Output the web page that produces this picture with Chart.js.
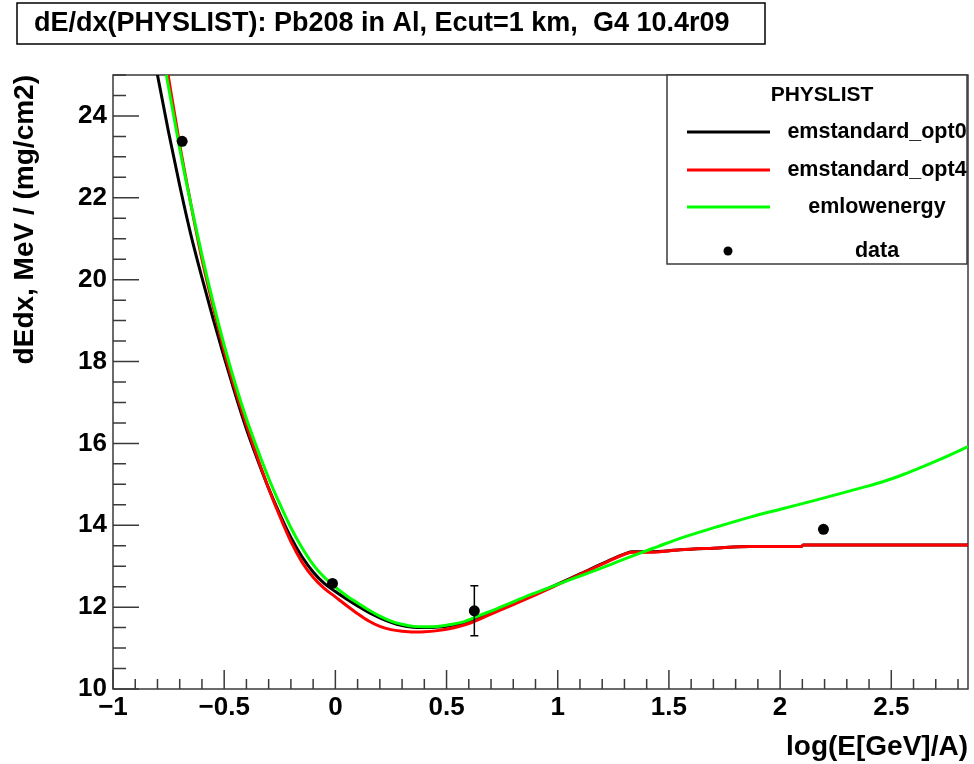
<!DOCTYPE html>
<html lang="en">
<head>
<meta charset="UTF-8">
<title>dE/dx(PHYSLIST): Pb208 in Al</title>
<script src="https://cdn.jsdelivr.net/npm/chart.js@4"></script>
<style>
  body { margin: 0; background: #fff; }
  #wrap { width: 974px; height: 764px; }
</style>
</head>
<body>
<div id="wrap"><canvas id="dedxChart" width="974" height="764"></canvas></div>
<script>
// ---- data ----
var chartTitle = 'dE/dx(PHYSLIST): Pb208 in Al, Ecut=1 km,  G4 10.4r09';
var legendHeader = 'PHYSLIST';

var xTickValues = [-1, -0.5, 0, 0.5, 1, 1.5, 2, 2.5];
var xTickLabels = ['\u22121', '\u22120.5', '0', '0.5', '1', '1.5', '2', '2.5'];
var yTickValues = [10, 12, 14, 16, 18, 20, 22, 24];
var yTickLabels = ['10', '12', '14', '16', '18', '20', '22', '24'];

// emstandard_opt0
var opt0X = [-0.82, -0.80, -0.75, -0.70, -0.65, -0.60, -0.55, -0.50, -0.45, -0.40, -0.35, -0.30, -0.25, -0.20, -0.15, -0.10, -0.05, 0.00, 0.05, 0.10, 0.15, 0.20, 0.25, 0.30, 0.35, 0.40, 0.45, 0.50, 0.60, 0.70, 0.80, 0.90, 1.00, 1.10, 1.20, 1.31, 1.335, 1.415, 1.55, 1.70, 1.865, 2.095, 2.105, 2.845];
var opt0Y = [25.6, 25.0, 23.6, 22.3, 21.1, 20.05, 19.05, 18.1, 17.2, 16.35, 15.6, 14.9, 14.27, 13.7, 13.23, 12.86, 12.58, 12.38, 12.2, 12.03, 11.87, 11.74, 11.63, 11.55, 11.51, 11.50, 11.51, 11.53, 11.65, 11.87, 12.09, 12.32, 12.56, 12.81, 13.06, 13.32, 13.35, 13.35, 13.40, 13.44, 13.48, 13.48, 13.52, 13.52];

// emstandard_opt4
var opt4X = [-0.77, -0.752, -0.70, -0.65, -0.60, -0.55, -0.50, -0.45, -0.40, -0.35, -0.30, -0.25, -0.20, -0.15, -0.10, -0.05, 0.00, 0.05, 0.10, 0.15, 0.20, 0.25, 0.30, 0.35, 0.40, 0.45, 0.50, 0.60, 0.70, 0.80, 0.90, 1.00, 1.10, 1.20, 1.31, 1.335, 1.415, 1.55, 1.70, 1.865, 2.095, 2.105, 2.845];
var opt4Y = [25.6, 25.0, 23.3, 21.85, 20.5, 19.35, 18.25, 17.3, 16.45, 15.65, 14.9, 14.22, 13.6, 13.1, 12.73, 12.46, 12.25, 12.04, 11.84, 11.66, 11.53, 11.45, 11.41, 11.39, 11.40, 11.42, 11.46, 11.60, 11.83, 12.06, 12.30, 12.55, 12.80, 13.05, 13.31, 13.34, 13.34, 13.40, 13.44, 13.48, 13.48, 13.52, 13.52];

// emlowenergy
var lowX = [-0.78, -0.76, -0.70, -0.65, -0.60, -0.55, -0.50, -0.45, -0.40, -0.35, -0.30, -0.25, -0.20, -0.15, -0.10, -0.05, 0.00, 0.05, 0.10, 0.15, 0.20, 0.25, 0.30, 0.35, 0.425, 0.50, 0.576, 0.65, 0.725, 0.80, 0.875, 0.95, 1.05, 1.175, 1.27, 1.37, 1.45, 1.55, 1.715, 1.865, 2.015, 2.165, 2.315, 2.39, 2.465, 2.54, 2.615, 2.69, 2.765, 2.845];
var lowY = [25.6, 25.0, 23.2, 21.85, 20.6, 19.45, 18.4, 17.45, 16.6, 15.85, 15.15, 14.52, 13.94, 13.45, 13.04, 12.73, 12.49, 12.28, 12.1, 11.93, 11.78, 11.66, 11.58, 11.53, 11.52, 11.56, 11.64, 11.80, 11.96, 12.13, 12.30, 12.45, 12.66, 12.91, 13.11, 13.32, 13.48, 13.68, 13.96, 14.20, 14.41, 14.62, 14.84, 14.95, 15.07, 15.21, 15.37, 15.54, 15.72, 15.92];

// data
var dataX = [-0.689, -0.013, 0.625, 2.195];
var dataY = [23.38, 12.58, 11.91, 13.90];
var dataErr = [0, 0, 0.61, 0];

var FONT = "'Liberation Sans', Arial, Helvetica, sans-serif";

function pts(xs, ys) {
    return xs.map(function (x, i) { return { x: x, y: ys[i] }; });
}

// frame and inward ROOT style ticks
var rootAxes = {
    id: 'rootAxes',
    beforeDatasetsDraw: function (chart) {
        var ctx = chart.ctx, a = chart.chartArea;
        var xs = chart.scales.x, ys = chart.scales.y;
        ctx.save();
        ctx.strokeStyle = '#3a3a3a';
        ctx.lineWidth = 1.5;
        ctx.strokeRect(a.left, a.top, a.right - a.left, a.bottom - a.top);
        ctx.beginPath();
        // x: major every 0.5, minor every 0.1
        for (var i = -10; i <= 28; i++) {
            var px = xs.getPixelForValue(i / 10);
            var len = (i % 5 === 0) ? 19 : 10;
            ctx.moveTo(px, a.bottom);
            ctx.lineTo(px, a.bottom - len);
        }
        // y: major every 2, minor every 0.5
        for (var j = 20; j <= 50; j++) {
            var py = ys.getPixelForValue(j / 2);
            var ylen = (j % 4 === 0) ? 26 : 13;
            ctx.moveTo(a.left, py);
            ctx.lineTo(a.left + ylen, py);
        }
        ctx.stroke();
        ctx.restore();
    }
};

// vertical error bars on the data points
var errorBars = {
    id: 'errorBars',
    afterDatasetsDraw: function (chart) {
        var ctx = chart.ctx, xs = chart.scales.x, ys = chart.scales.y;
        ctx.save();
        ctx.strokeStyle = '#000';
        ctx.lineWidth = 1.5;
        dataX.forEach(function (x, i) {
            if (!dataErr[i]) return;
            var px = xs.getPixelForValue(x);
            var top = ys.getPixelForValue(dataY[i] + dataErr[i]);
            var bot = ys.getPixelForValue(dataY[i] - dataErr[i]);
            ctx.beginPath();
            ctx.moveTo(px, top); ctx.lineTo(px, bot);
            ctx.moveTo(px - 4, top); ctx.lineTo(px + 4, top);
            ctx.moveTo(px - 4, bot); ctx.lineTo(px + 4, bot);
            ctx.stroke();
        });
        ctx.restore();
    }
};

// ROOT TLegend look
var rootLegend = {
    id: 'rootLegend',
    afterDraw: function (chart) {
        var ctx = chart.ctx, a = chart.chartArea;
        var w = 300, h = 189;
        var x0 = a.right - w - 1, y0 = a.top;
        ctx.save();
        ctx.fillStyle = '#fff';
        ctx.fillRect(x0, y0, w, h);
        ctx.strokeStyle = '#3a3a3a';
        ctx.lineWidth = 1.5;
        ctx.strokeRect(x0, y0, w, h);
        ctx.fillStyle = '#000';
        ctx.textBaseline = 'middle';
        ctx.textAlign = 'center';
        ctx.font = 'bold 21px ' + FONT;
        ctx.fillText(legendHeader, x0 + 155, y0 + 20);
        ctx.font = 'bold 21.5px ' + FONT;
        var rows = [57, 95, 132, 176];
        chart.data.datasets.slice().sort(function (p, q) { return p.legendIndex - q.legendIndex; }).forEach(function (ds, k) {
            var ry = y0 + rows[k];
            if (ds.showLine) {
                ctx.strokeStyle = ds.borderColor;
                ctx.lineWidth = 3;
                ctx.beginPath();
                ctx.moveTo(x0 + 20, ry);
                ctx.lineTo(x0 + 103, ry);
                ctx.stroke();
            } else {
                ctx.fillStyle = '#000';
                ctx.beginPath();
                ctx.arc(x0 + 61, ry, 4.5, 0, Math.PI * 2);
                ctx.fill();
            }
            ctx.fillStyle = '#000';
            ctx.fillText(ds.label, x0 + 210, ry);
        });
        ctx.restore();
    }
};

// boxed title in the top left
var titleBox = {
    id: 'titleBox',
    afterDraw: function (chart) {
        var ctx = chart.ctx;
        ctx.save();
        ctx.fillStyle = '#fff';
        ctx.fillRect(17, 3, 748, 41);
        ctx.strokeStyle = '#000';
        ctx.lineWidth = 1.5;
        ctx.strokeRect(17, 3, 748, 41);
        ctx.fillStyle = '#000';
        ctx.font = 'bold 27px ' + FONT;
        ctx.textAlign = 'left';
        ctx.textBaseline = 'middle';
        ctx.fillText(chartTitle, 34, 24);
        ctx.restore();
    }
};

var lineBase = { showLine: true, pointRadius: 0, borderWidth: 3, cubicInterpolationMode: 'monotone', fill: false };

var ctx = document.getElementById('dedxChart').getContext('2d');
var dedxChart = new Chart(ctx, {
    type: 'scatter',
    data: {
        datasets: [
            { label: 'data', legendIndex: 3, order: 0, data: pts(dataX, dataY), showLine: false,
              pointRadius: 5.5, pointBackgroundColor: '#000', pointBorderColor: '#000', pointBorderWidth: 0 },
            Object.assign({ label: 'emlowenergy', legendIndex: 2, order: 1, data: pts(lowX, lowY), borderColor: '#00ff00' }, lineBase),
            Object.assign({ label: 'emstandard_opt4', legendIndex: 1, order: 2, data: pts(opt4X, opt4Y), borderColor: '#ff0000' }, lineBase),
            Object.assign({ label: 'emstandard_opt0', legendIndex: 0, order: 3, data: pts(opt0X, opt0Y), borderColor: '#000000' }, lineBase)
        ]
    },
    options: {
        responsive: false,
        animation: false,
        layout: { padding: { top: 75, right: 6, left: 0, bottom: 0 } },
        plugins: {
            legend: { display: false },
            tooltip: { enabled: false },
            title: { display: false }
        },
        scales: {
            x: {
                type: 'linear',
                min: -1,
                max: 2.845,
                grid: { display: false, drawTicks: false },
                border: { display: false },
                afterBuildTicks: function (s) { s.ticks = xTickValues.map(function (v) { return { value: v }; }); },
                afterFit: function (s) { s.height = 75; },
                ticks: {
                    padding: 3, autoSkip: false, maxRotation: 0, color: '#000',
                    font: { family: FONT, size: 26, weight: 'bold' },
                    callback: function (v, i) { return xTickLabels[i]; }
                },
                title: {
                    display: true, text: 'log(E[GeV]/A)', align: 'end', color: '#000',
                    font: { family: FONT, size: 28, weight: 'bold' },
                    padding: { top: 0, bottom: 0 }
                }
            },
            y: {
                type: 'linear',
                min: 10,
                max: 25,
                grid: { display: false, drawTicks: false },
                border: { display: false },
                afterBuildTicks: function (s) { s.ticks = yTickValues.map(function (v) { return { value: v }; }); },
                afterFit: function (s) { s.width = 113; },
                ticks: {
                    padding: 6, color: '#000',
                    font: { family: FONT, size: 26, weight: 'bold' },
                    callback: function (v, i) { return yTickLabels[i]; }
                },
                title: {
                    display: true, text: 'dEdx, MeV / (mg/cm2)', align: 'end', color: '#000',
                    font: { family: FONT, size: 28, weight: 'bold' },
                    padding: { top: 8, bottom: 0 }
                }
            }
        }
    },
    plugins: [rootAxes, errorBars, rootLegend, titleBox]
});
</script>
</body>
</html>
